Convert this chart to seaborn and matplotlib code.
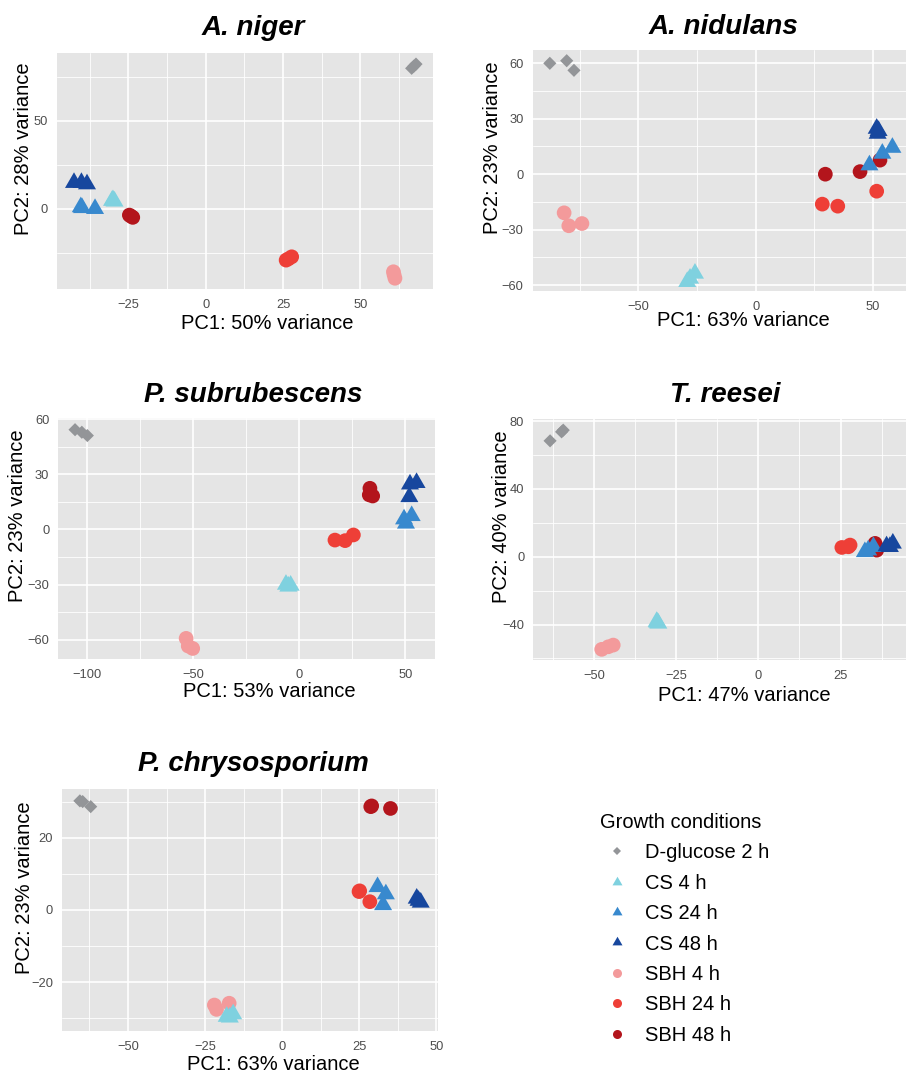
import numpy as np
import pandas as pd
import matplotlib
matplotlib.use("Agg")
import matplotlib.pyplot as plt
from matplotlib.path import Path
from matplotlib.lines import Line2D
from matplotlib.ticker import FixedLocator
import seaborn as sns

# ---------------------------------------------------------------- data
CONDITIONS = ["D-glucose 2 h", "CS 4 h", "CS 24 h", "CS 48 h",
              "SBH 4 h", "SBH 24 h", "SBH 48 h"]
REPLICATES = 3

# PC scores, three replicates per condition in CONDITIONS order
niger_pc1 = [66.6, 68.0, 67.3, -30.0, -29.5, -30.3, -40.4, -35.8, -40.0,
             -42.6, -40.2, -38.4, 60.7, 61.2, 60.9, 26.0, 27.8, 26.8,
             -24.7, -23.6, -24.2]
niger_pc2 = [79.8, 82.2, 81.0, 5.0, 4.2, 4.6, 1.0, 0.0, 0.5,
             14.8, 14.8, 14.0, -35.8, -39.5, -37.5, -29.2, -27.3, -28.4,
             -3.6, -4.9, -4.2]

nidulans_pc1 = [-87.8, -80.6, -77.5, -28.0, -25.9, -29.2, 48.5, 54.0, 58.3,
                51.6, 52.0, 52.4, -81.7, -79.7, -74.1, 28.4, 35.0, 51.6,
                29.7, 44.5, 53.0]
nidulans_pc2 = [60.0, 61.4, 56.2, -56.4, -53.7, -58.2, 4.9, 11.2, 14.4,
                24.7, 22.0, 23.5, -20.9, -27.9, -26.7, -16.2, -17.3, -9.2,
                0.0, 1.4, 7.6]

subrub_pc1 = [-105.8, -102.6, -100.0, -6.3, -4.1, -5.2, 49.4, 53.0, 50.3,
              52.2, 55.3, 51.9, -53.4, -52.4, -50.3, 16.8, 21.6, 25.5,
              33.3, 33.0, 34.6]
subrub_pc2 = [54.3, 52.9, 51.1, -30.0, -30.5, -31.0, 5.6, 7.4, 3.3,
              24.6, 25.4, 17.7, -59.3, -63.5, -64.8, -5.8, -6.1, -3.0,
              22.4, 18.8, 18.2]

reesei_pc1 = [-63.3, -59.8, -59.3, -30.9, -30.4, -30.7, 32.4, 35.0, 33.4,
              39.0, 40.9, 40.0, -47.6, -45.6, -44.1, 25.4, 27.9, 27.4,
              35.5, 36.0, 35.8]
reesei_pc2 = [68.4, 73.7, 74.7, -38.3, -39.3, -38.8, 2.9, 5.9, 3.9,
              6.3, 7.9, 5.9, -54.6, -53.1, -52.1, 5.5, 6.9, 5.9,
              7.9, 3.9, 6.0]

chryso_pc1 = [-65.6, -64.7, -62.1, -18.0, -15.9, -17.0, 30.9, 33.6, 32.7,
              43.6, 44.9, 44.2, -22.0, -17.2, -21.3, 24.9, 28.4, 25.1,
              28.7, 35.1, 29.0]
chryso_pc2 = [30.2, 30.0, 28.6, -29.5, -28.8, -29.7, 6.4, 4.4, 1.4,
              3.2, 2.1, 2.6, -26.3, -25.8, -27.5, 5.1, 2.3, 5.3,
              28.6, 28.1, 28.8]

SPECIES = ["A. niger", "A. nidulans", "P. subrubescens", "T. reesei",
           "P. chrysosporium"]
PC1_VAR = [50, 63, 53, 47, 63]
PC2_VAR = [28, 23, 23, 40, 23]
SCORES = [(niger_pc1, niger_pc2), (nidulans_pc1, nidulans_pc2),
          (subrub_pc1, subrub_pc2), (reesei_pc1, reesei_pc2),
          (chryso_pc1, chryso_pc2)]

# ---------------------------------------------------------------- styling
PALETTE = {
    "D-glucose 2 h": "#939598",
    "CS 4 h": "#7FD1DF",
    "CS 24 h": "#3889CE",
    "CS 48 h": "#17479E",
    "SBH 4 h": "#F39A9B",
    "SBH 24 h": "#EE3F37",
    "SBH 48 h": "#B3151C",
}
# equilateral triangle centred on its centroid
TRIANGLE = Path([(0.0, 0.577), (-0.5, -0.289), (0.5, -0.289), (0.0, 0.577)],
                [Path.MOVETO, Path.LINETO, Path.LINETO, Path.CLOSEPOLY])
MARKERS = {
    "D-glucose 2 h": "D",
    "CS 4 h": TRIANGLE, "CS 24 h": TRIANGLE, "CS 48 h": TRIANGLE,
    "SBH 4 h": "o", "SBH 24 h": "o", "SBH 48 h": "o",
}
SIZES = {
    "D-glucose 2 h": 45,
    "CS 4 h": 225, "CS 24 h": 225, "CS 48 h": 225,
    "SBH 4 h": 112, "SBH 24 h": 112, "SBH 48 h": 112,
}
DRAW_ORDER = ["D-glucose 2 h", "SBH 4 h", "SBH 24 h", "CS 4 h",
              "SBH 48 h", "CS 24 h", "CS 48 h"]

W, H = 906, 1075
# panel boxes in pixels: left, right, top, bottom
PANELS = [
    dict(box=(57, 433, 53, 289), xlim=(-48.1, 73.5), ylim=(-45.6, 88.5),
         xt=[-25, 0, 25, 50], yt=[0, 50],
         title_x=0.522, title_pad=13, xlab=(0.559, -0.108), ylab=(-0.064, 0.593)),
    dict(box=(532.7, 906, 50, 291), xlim=(-95.1, 64.1), ylim=(-63.2, 67.2),
         xt=[-50, 0, 50], yt=[-60, -30, 0, 30, 60],
         title_x=0.510, title_pad=11.5, xlab=(0.565, -0.083), ylab=(-0.083, 0.593)),
    dict(box=(58.3, 435, 418.3, 659.3), xlim=(-113.7, 64.0), ylim=(-70.7, 60.5),
         xt=[-100, -50, 0, 50], yt=[-60, -30, 0, 30, 60],
         title_x=0.518, title_pad=11.5, xlab=(0.561, -0.096), ylab=(-0.082, 0.595)),
    dict(box=(533.3, 906, 419.3, 660), xlim=(-68.4, 44.9), ylim=(-60.9, 81.1),
         xt=[-50, -25, 0, 25], yt=[-40, 0, 40, 80],
         title_x=0.514, title_pad=12.5, xlab=(0.567, -0.108), ylab=(-0.0605, 0.595)),
    dict(box=(62, 438.3, 789.3, 1030.7), xlim=(-71.4, 50.6), ylim=(-33.4, 33.4),
         xt=[-50, -25, 0, 25, 50], yt=[-20, 0, 20],
         title_x=0.508, title_pad=13.5, xlab=(0.562, -0.101), ylab=(-0.075, 0.593)),
]

sns.set_style("darkgrid", rc={
    "axes.facecolor": "#E5E5E5",
    "grid.color": "white",
    "axes.edgecolor": "none",
    "text.color": "black",
    "axes.labelcolor": "black",
})
plt.rcParams["font.family"] = ["Liberation Sans", "DejaVu Sans"]

fig = plt.figure(figsize=(W / 100, H / 100), dpi=100)
fig.patch.set_facecolor("white")


def minor_between(ticks, lo, hi):
    step = ticks[1] - ticks[0]
    vals = np.arange(ticks[0] - step / 2, hi, step)
    vals = np.concatenate([np.arange(ticks[0] - step / 2, lo, -step), vals])
    return sorted(v for v in set(np.round(vals, 6)) if lo < v < hi)


for name, v1, v2, (pc1, pc2), spec in zip(SPECIES, PC1_VAR, PC2_VAR, SCORES, PANELS):
    l, r, t, b = spec["box"]
    ax = fig.add_axes([l / W, 1 - b / H, (r - l) / W, (b - t) / H])

    df = pd.DataFrame({
        "PC1": pc1,
        "PC2": pc2,
        "condition": np.repeat(CONDITIONS, REPLICATES),
    })
    df["order"] = df["condition"].map({c: i for i, c in enumerate(DRAW_ORDER)})
    df = df.sort_values("order", kind="stable")

    sns.scatterplot(data=df, x="PC1", y="PC2", hue="condition",
                    style="condition", size="condition",
                    hue_order=CONDITIONS, style_order=CONDITIONS,
                    size_order=CONDITIONS, palette=PALETTE, markers=MARKERS,
                    sizes=SIZES, linewidth=0, alpha=1, legend=False, ax=ax,
                    zorder=3)

    ax.set_xlim(*spec["xlim"])
    ax.set_ylim(*spec["ylim"])
    ax.xaxis.set_major_locator(FixedLocator(spec["xt"]))
    ax.yaxis.set_major_locator(FixedLocator(spec["yt"]))
    ax.xaxis.set_minor_locator(FixedLocator(minor_between(spec["xt"], *spec["xlim"])))
    ax.yaxis.set_minor_locator(FixedLocator(minor_between(spec["yt"], *spec["ylim"])))
    ax.grid(which="major", color="white", linewidth=1.2)
    ax.grid(which="minor", color="white", linewidth=0.6)
    ax.set_axisbelow(True)
    ax.tick_params(which="major", length=3, width=0.8, color="#333333",
                   labelsize=9.3, labelcolor="#4D4D4D", pad=3.5)
    ax.tick_params(axis="x", which="major", pad=4.3)
    ax.tick_params(which="minor", length=0)
    for s in ax.spines.values():
        s.set_visible(False)

    ax.set_title(name, fontsize=20, fontweight="bold", fontstyle="italic",
                 color="black", pad=spec["title_pad"], x=spec["title_x"])
    ax.set_xlabel(f"PC1: {v1}% variance", fontsize=14.5, color="black")
    ax.set_ylabel(f"PC2: {v2}% variance", fontsize=14.5, color="black")
    ax.xaxis.set_label_coords(*spec["xlab"])
    ax.yaxis.set_label_coords(*spec["ylab"])

# legend for the growth conditions
LEGEND_MS = {"D": 4.1, "o": 6.5, "tri": 8.3}
handles = []
for c in CONDITIONS:
    m = MARKERS[c]
    ms = LEGEND_MS["tri"] if m is TRIANGLE else LEGEND_MS[m]
    handles.append(Line2D([], [], linestyle="none", marker=m, markersize=ms,
                          markerfacecolor=PALETTE[c], markeredgewidth=0))
leg = fig.legend(handles, CONDITIONS, title="Growth conditions",
                 loc="upper left", bbox_to_anchor=(600 / W, 1 - 813 / H),
                 frameon=False, fontsize=14.5, title_fontsize=14.5,
                 alignment="left", borderpad=0, borderaxespad=0,
                 handlelength=1.72, handletextpad=0.52, labelspacing=0.565)
for txt in leg.get_texts():
    txt.set_color("black")
leg.get_title().set_color("black")

fig.savefig("out.png", dpi=100, facecolor="white")
